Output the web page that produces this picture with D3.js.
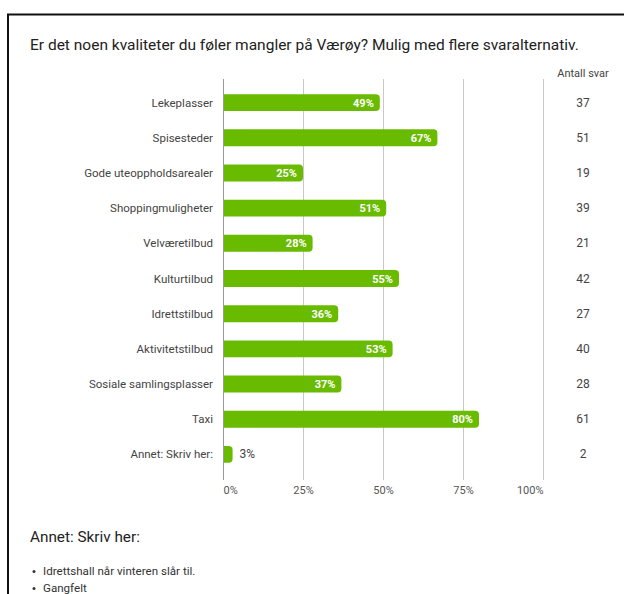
<!DOCTYPE html>
<html>
<head>
<meta charset="utf-8">
<script src="https://cdn.jsdelivr.net/npm/d3@7"></script>
<style>
  html, body { margin: 0; padding: 0; background: #fff; }
  svg { display: block; font-family: Roboto, "Noto Sans", sans-serif; }
</style>
</head>
<body>
<svg id="chart" width="624" height="594"></svg>
<script>
const title = "Er det noen kvaliteter du føler mangler på Værøy? Mulig med flere svaralternativ.";
const categories = ["Lekeplasser", "Spisesteder", "Gode uteoppholdsarealer", "Shoppingmuligheter",
  "Velværetilbud", "Kulturtilbud", "Idrettstilbud", "Aktivitetstilbud",
  "Sosiale samlingsplasser", "Taxi", "Annet: Skriv her:"];
const percents = [49, 67, 25, 51, 28, 55, 36, 53, 37, 80, 3];
const counts = [37, 51, 19, 39, 21, 42, 27, 40, 28, 61, 2];
const ticks = [0, 25, 50, 75, 100];
const countHeader = "Antall svar";
const otherHeading = "Annet: Skriv her:";
const otherAnswers = ["Idrettshall når vinteren slår til.", "Gangfelt"];

const svg = d3.select("#chart");

// frame
svg.append("path")
  .attr("d", "M8,640 V14.5 H630")
  .attr("fill", "none").attr("stroke", "#111").attr("stroke-width", 2);

svg.append("text").attr("x", 30).attr("y", 50)
  .attr("font-size", 15.5).attr("fill", "#222").text(title);

const x = d3.scaleLinear().domain([0, 100]).range([223, 543]);
const y = d3.scaleBand().domain(categories).range([85, 472]).paddingInner(0.52).paddingOuter(0.26);

// grid
svg.append("g").selectAll("line").data(ticks).join("line")
  .attr("x1", d => x(d) + 0.5).attr("x2", d => x(d) + 0.5)
  .attr("y1", 79).attr("y2", 480)
  .attr("stroke", d => d === 0 ? "#999" : "#c8c8c8").attr("stroke-width", 1);

// x axis tick labels: first label starts at its line, last ends at it
const xAxis = d3.axisBottom(x).tickValues(ticks).tickFormat(d => d + "%").tickSize(0).tickPadding(0);
const ax = svg.append("g").attr("transform", "translate(0,486)").call(xAxis);
ax.select(".domain").remove();
ax.selectAll("text")
  .attr("font-size", 11).attr("fill", "#555").attr("font-family", "Roboto, sans-serif")
  .attr("text-anchor", (d, i) => i === 0 ? "start" : i === ticks.length - 1 ? "end" : "middle");

// bars with rounded right end
const r = 4;
function barPath(d, i) {
  const x0 = x(0) + 1, x1 = x(percents[i]);
  const y0 = y(d), h = y.bandwidth();
  const rr = Math.min(r, (x1 - x0) / 2);
  return `M${x0},${y0} H${x1 - rr} Q${x1},${y0} ${x1},${y0 + rr} V${y0 + h - rr} Q${x1},${y0 + h} ${x1 - rr},${y0 + h} H${x0} Z`;
}
svg.append("g").selectAll("path").data(categories).join("path")
  .attr("d", barPath).attr("fill", "#69bb00");

// value labels
svg.append("g").selectAll("text").data(categories).join("text")
  .each(function (d, i) {
    const inside = percents[i] >= 10;
    d3.select(this)
      .attr("x", inside ? x(percents[i]) - 6 : x(percents[i]) + 7)
      .attr("y", y(d) + y.bandwidth() / 2 + 4)
      .attr("text-anchor", inside ? "end" : "start")
      .attr("font-size", inside ? 11 : 12)
      .attr("font-weight", inside ? "bold" : "normal")
      .attr("fill", inside ? "#fff" : "#444")
      .text(percents[i] + "%");
  });

// category labels
svg.append("g").selectAll("text").data(categories).join("text")
  .attr("x", 213).attr("y", d => y(d) + y.bandwidth() / 2 + 4)
  .attr("text-anchor", "end").attr("font-size", 11.5).attr("fill", "#444")
  .text(d => d);

// counts
svg.append("text").attr("x", 583).attr("y", 77).attr("text-anchor", "middle")
  .attr("font-size", 11).attr("fill", "#444").text(countHeader);
svg.append("g").selectAll("text").data(categories).join("text")
  .attr("x", 583).attr("y", d => y(d) + y.bandwidth() / 2 + 4)
  .attr("text-anchor", "middle").attr("font-size", 12).attr("fill", "#444")
  .text((d, i) => counts[i]);

// free-text answers
svg.append("text").attr("x", 30).attr("y", 542)
  .attr("font-size", 15.3).attr("fill", "#222").text(otherHeading);
const items = svg.append("g").selectAll("g").data(otherAnswers).join("g")
  .attr("transform", (d, i) => `translate(0,${575 + i * 17})`);
items.append("circle").attr("cx", 34).attr("cy", -3.5).attr("r", 1.5).attr("fill", "#333");
items.append("text").attr("x", 43).attr("y", 0).attr("font-size", 11.6).attr("fill", "#333").text(d => d);
</script>
</body>
</html>
